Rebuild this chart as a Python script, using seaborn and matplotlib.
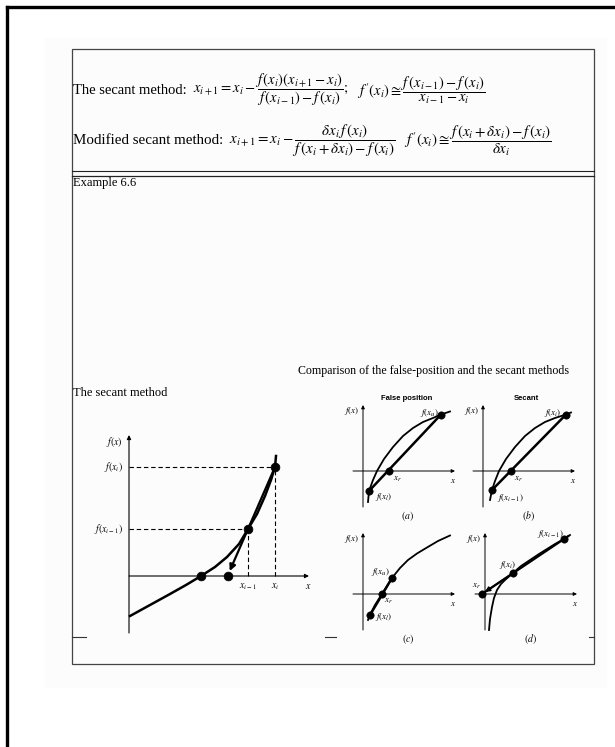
import matplotlib
matplotlib.use("Agg")
import matplotlib.pyplot as plt
import matplotlib.patches as mpatches
import seaborn as sns

plt.rcParams["font.family"] = "Liberation Serif"
plt.rcParams["mathtext.fontset"] = "stix"

W, H = 615, 747

# ---- data (units: pixels from each diagram's origin) ----
# left diagram: the secant method
curve_x = [1, 21, 41, 57, 72, 86, 98, 110, 119, 128, 136, 142, 146, 147]
curve_y = [-40, -29, -18, -9, 0, 9, 19, 32, 47, 62, 80, 96, 109, 120]
sec_x = [119, 146]          # x_{i-1}, x_i
sec_y = [47, 109]           # f(x_{i-1}), f(x_i)
root_x = 72

# comparison panels
a_curve_x = [5, 6, 10, 14, 21, 30, 40, 50, 60, 70, 78, 87]
a_curve_y = [-31, -20, -9, 0, 12, 24, 35, 43, 49, 53, 56.5, 59.5]
a_pts_x = [6, 78]
a_pts_y = [-20, 56.5]
a_xr = 26

b_curve_x = [7, 9, 12, 16, 23, 32, 42, 52, 62, 72, 83, 88]
b_curve_y = [-29, -19, -10, 0, 12, 24, 35, 43, 49, 53, 56.5, 58.5]
b_pts_x = [9, 83]
b_pts_y = [-19, 56.5]
b_xr = 28

c_curve_x = [5, 7, 12, 19, 29, 37, 45, 54, 64, 75, 87]
c_curve_y = [-26, -21, -11, 0, 16, 26, 34, 40.5, 46.5, 53, 58.5]
c_pts_x = [7, 29]
c_pts_y = [-21, 16]
c_xr = 19

d_curve_x = [4, 5, 7, 9, 12, 16, 20, 28, 36, 45, 54, 62, 70, 79, 85]
d_curve_y = [-36, -25, -13, -4, 4, 10, 14, 21, 28, 34, 40, 45, 50, 55, 59]
d_pts_x = [28, 79]
d_pts_y = [21, 55]
d_xr = -3

fig = plt.figure(figsize=(W / 100, H / 100), dpi=100)
page = fig.add_axes([0, 0, 1, 1])
page.set_xlim(0, W)
page.set_ylim(H, 0)
page.axis("off")

# page frame, scan shading and box
page.add_patch(mpatches.Rectangle((45, 38), 562, 650, fc="#fcfcfc", ec="none"))
page.plot([7, W], [7, 7], color="black", lw=2.4)
page.plot([7, 7], [7, H], color="black", lw=2.4)
page.add_patch(mpatches.Rectangle((72, 49), 522, 615, fc="none", ec="#444444", lw=0.9))
page.plot([72, 594], [171, 171], color="#222222", lw=0.8)
page.plot([72, 594], [176, 176], color="#222222", lw=0.9)
for x0, x1 in [(72, 86), (325, 336), (589, 594)]:
    page.plot([x0, x1], [637, 637], color="#333333", lw=0.8)

# formulas
page.text(73, 90, "The secant method:", fontsize=10.5, va="center")
page.text(193, 90, r"$x_{i+1} = x_i - \dfrac{f\,(x_i)(x_{i+1} - x_i)}{f\,(x_{i-1}) - f\,(x_i)};$",
          fontsize=10.5, va="center")
page.text(357, 90, r"$f\,'(x_i) \cong \dfrac{f\,(x_{i-1}) - f\,(x_i)}{x_{i-1} - x_i}$",
          fontsize=10.5, va="center")
page.text(73, 141, "Modified secant method:", fontsize=10.8, va="center")
page.text(229, 141, r"$x_{i+1} = x_i - \dfrac{\delta x_i\, f\,(x_i)}{f\,(x_i + \delta x_i) - f\,(x_i)}$",
          fontsize=10.8, va="center")
page.text(404, 141, r"$f\,'(x_i) \cong \dfrac{f\,(x_i + \delta x_i) - f\,(x_i)}{\delta x_i}$",
          fontsize=10.8, va="center")

page.text(73, 183, "Example 6.6", fontsize=9, va="center")
page.text(298, 371, "Comparison of the false-position and the secant methods", fontsize=8.6, va="center")
page.text(73, 393, "The secant method", fontsize=9, va="center")


def diagram_axes(ox, oy, left, right, top, bottom):
    ax = fig.add_axes([left / W, 1 - bottom / H, (right - left) / W, (bottom - top) / H])
    ax.set_xlim(left - ox, right - ox)
    ax.set_ylim(oy - bottom, oy - top)
    ax.axis("off")
    return ax


def axis_arrow(ax, start, end, lw=0.8, ms=6):
    ax.annotate("", xy=end, xytext=start,
                arrowprops=dict(arrowstyle="-|>", lw=lw, color="black",
                                mutation_scale=ms, shrinkA=0, shrinkB=0))


# ---- left diagram ----
ax = diagram_axes(129, 576, 90, 320, 425, 645)
axis_arrow(ax, (0, 0), (180, 0))
axis_arrow(ax, (0, -57), (0, 141))
dash = (0, (4, 2.5))
ax.plot([0, sec_x[1]], [sec_y[1], sec_y[1]], color="black", lw=0.8, ls=dash)
ax.plot([0, sec_x[0]], [sec_y[0], sec_y[0]], color="black", lw=0.8, ls=dash)
ax.plot([sec_x[1], sec_x[1]], [0, sec_y[1]], color="black", lw=0.8, ls=dash)
ax.plot([sec_x[0], sec_x[0]], [0, sec_y[0]], color="black", lw=0.8, ls=dash)
sns.lineplot(x=curve_x, y=curve_y, ax=ax, color="black", lw=1.8, sort=False, estimator=None)
slope = (sec_y[1] - sec_y[0]) / (sec_x[1] - sec_x[0])
next_x = sec_x[0] - sec_y[0] / slope
ax.annotate("", xy=(next_x + 5 / slope, 5), xytext=(sec_x[1], sec_y[1]),
            arrowprops=dict(arrowstyle="-|>", lw=1.6, color="black",
                            mutation_scale=9, shrinkA=0, shrinkB=0))
sns.scatterplot(x=[root_x, next_x] + sec_x, y=[0, 0] + sec_y, ax=ax, color="black",
                s=40, edgecolor="black", zorder=5)
ax.text(-6, 134, r"$f(x)$", fontsize=7, ha="right", va="center")
ax.text(-6, sec_y[1], r"$f(x_i)$", fontsize=7, ha="right", va="center")
ax.text(-6, sec_y[0], r"$f(x_{i-1})$", fontsize=7, ha="right", va="center")
ax.text(sec_x[0], -6, r"$x_{i-1}$", fontsize=7, ha="center", va="top")
ax.text(sec_x[1], -6, r"$x_i$", fontsize=7, ha="center", va="top")
ax.text(179, -6, r"$x$", fontsize=7, ha="center", va="top")

# ---- comparison panels ----
panels = [
    ("a", 363, 471, a_curve_x, a_curve_y, a_pts_x, a_pts_y, a_xr, 66),
    ("b", 483, 471, b_curve_x, b_curve_y, b_pts_x, b_pts_y, b_xr, 66),
    ("c", 363, 594, c_curve_x, c_curve_y, c_pts_x, c_pts_y, c_xr, 61),
    ("d", 485, 594, d_curve_x, d_curve_y, d_pts_x, d_pts_y, d_xr, 61),
]
panel_axes = {}
for name, ox, oy, cx, cy, px, py, xr, ytop in panels:
    ax = diagram_axes(ox, oy, ox - 30, ox + 100, oy - 80, oy + 55)
    panel_axes[name] = ax
    axis_arrow(ax, (-10, 0), (92, 0), lw=0.7, ms=5)
    axis_arrow(ax, (0, -36), (0, ytop), lw=0.7, ms=5)
    sns.lineplot(x=cx, y=cy, ax=ax, color="black", lw=1.3, sort=False, estimator=None)
    if name == "d":
        ax.plot([xr, px[1] + 4], [0, py[1] + 4 * (py[1] - py[0]) / (px[1] - px[0])],
                color="black", lw=1.6)
        ax.annotate("", xy=(xr + 3, 2), xytext=(px[0], py[0]),
                    arrowprops=dict(arrowstyle="-|>", lw=1.2, color="black",
                                    mutation_scale=7, shrinkA=0, shrinkB=0))
    else:
        ax.plot(px, py, color="black", lw=1.8)
    sns.scatterplot(x=px + [xr], y=py + [0], ax=ax, color="black", s=28,
                    edgecolor="black", zorder=5)
    ax.text(-11, ytop - 6, r"$f(x)$", fontsize=6.5, ha="center", va="center")
    ax.text(90, -6, r"$x$", fontsize=6.5, ha="center", va="top")
    ax.text(45, -45, r"$(%s)$" % name, fontsize=7, ha="center", va="center")

fs = 6.5
# (a) false position
ax_a = panel_axes["a"]
ax_a.text(44, 73, "False position", fontsize=5.5, family="Liberation Sans", weight="bold",
          ha="center", va="center")
ax_a.text(a_pts_x[1] - 2, 58, r"$f(x_u)$", fontsize=fs, ha="right", va="center")
ax_a.text(12, -26, r"$f(x_l)$", fontsize=fs, ha="left", va="center")
ax_a.text(34, -8, r"$x_r$", fontsize=fs, ha="center", va="center")
# (b) secant
ax_b = panel_axes["b"]
ax_b.text(43, 73, "Secant", fontsize=5.5, family="Liberation Sans", weight="bold",
          ha="center", va="center")
ax_b.text(b_pts_x[1] - 4, 58, r"$f(x_i)$", fontsize=fs, ha="right", va="center")
ax_b.text(14, -27, r"$f(x_{i-1})$", fontsize=fs, ha="left", va="center")
ax_b.text(35, -8, r"$x_r$", fontsize=fs, ha="center", va="center")
# (c)
ax_c = panel_axes["c"]
ax_c.text(17, 22, r"$f(x_u)$", fontsize=fs, ha="center", va="center")
ax_c.text(12, -23, r"$f(x_l)$", fontsize=fs, ha="left", va="center")
ax_c.text(25, -7, r"$x_r$", fontsize=fs, ha="center", va="center")
# (d)
ax_d = panel_axes["d"]
ax_d.text(65, 60, r"$f(x_{i-1})$", fontsize=fs, ha="center", va="center")
ax_d.text(23, 29, r"$f(x_i)$", fontsize=fs, ha="center", va="center")
ax_d.text(-9, 8, r"$x_r$", fontsize=fs, ha="center", va="center")

fig.savefig("out.png", dpi=100)
